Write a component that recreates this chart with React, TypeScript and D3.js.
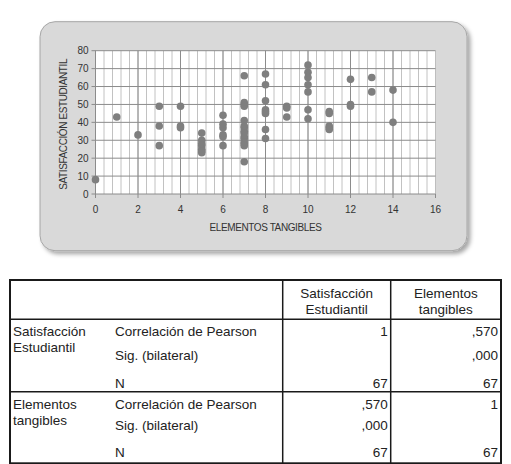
import { useEffect, useRef } from 'react'
import * as d3 from 'd3'

// elementos tangibles (x) and satisfaccion estudiantil (y), one array per x column
const xValues = [0, 1, 2, 3, 4, 5, 6, 7, 8, 9, 10, 11, 12, 13, 14]
const yByX: number[][] = [
  [8],
  [43],
  [33],
  [49, 38, 27],
  [49, 38, 37],
  [34, 30, 28, 27, 25, 24, 23],
  [44, 39, 37, 33, 32, 27],
  [66, 51, 50, 49, 41, 38, 37, 35, 34, 32, 31, 29, 28, 27, 18],
  [67, 61, 52, 47, 46, 45, 36, 31],
  [49, 48, 43],
  [72, 68, 65, 61, 57, 47, 42],
  [46, 45, 38, 37, 36],
  [64, 50, 49],
  [65, 57],
  [58, 40],
]
const xTicks = [0, 2, 4, 6, 8, 10, 12, 14, 16]
const yTicks = [0, 10, 20, 30, 40, 50, 60, 70, 80]

const colHeaders = [['Satisfacción', 'Estudiantil'], ['Elementos', 'tangibles']]
const rowGroups = [['Satisfacción', 'Estudiantil'], ['Elementos', 'tangibles']]
const statLabels = ['Correlación de Pearson', 'Sig. (bilateral)', 'N']
const cellValues = [
  [['1', '', '67'], [',570', ',000', '67']],
  [[',570', ',000', '67'], ['1', '', '67']],
]

const App = () => {
  const svgRef = useRef<SVGSVGElement>(null)

  useEffect(() => {
    if (!svgRef.current) return
    const svg = d3.select(svgRef.current)
    svg.selectAll('*').remove()

    const font = 'Liberation Sans, Arial, sans-serif'
    const plot = { left: 95.5, right: 435.5, top: 50.7, bottom: 194 }

    const x = d3.scaleLinear().domain([0, 16]).range([plot.left, plot.right])
    const y = d3.scaleLinear().domain([0, 80]).range([plot.bottom, plot.top])

    // panel with shadow
    const defs = svg.append('defs')
    const f = defs.append('filter').attr('id', 'shadow').attr('x', '-10%').attr('y', '-10%')
      .attr('width', '120%').attr('height', '130%')
    f.append('feDropShadow').attr('dx', 3).attr('dy', 3).attr('stdDeviation', 2)
      .attr('flood-color', '#000').attr('flood-opacity', 0.35)

    svg.append('rect')
      .attr('x', 40).attr('y', 21.7).attr('width', 427).attr('height', 229)
      .attr('rx', 15).attr('ry', 15)
      .attr('fill', '#d9d9d9').attr('stroke', '#a6a6a6').attr('stroke-width', 1)
      .attr('filter', 'url(#shadow)')

    svg.append('rect')
      .attr('x', plot.left).attr('y', plot.top)
      .attr('width', plot.right - plot.left).attr('height', plot.bottom - plot.top)
      .attr('fill', '#fff')

    // minor vertical grid every 0.4
    const minor = d3.range(0, 40).map(i => i * 0.4)
    svg.append('g').selectAll('line').data(minor).enter().append('line')
      .attr('x1', d => x(d)).attr('x2', d => x(d))
      .attr('y1', plot.top).attr('y2', plot.bottom)
      .attr('stroke', '#b3b3b3').attr('stroke-width', 0.8)
    svg.append('line')
      .attr('x1', plot.right).attr('x2', plot.right)
      .attr('y1', plot.top).attr('y2', plot.bottom)
      .attr('stroke', '#b3b3b3').attr('stroke-width', 0.8)

    // major vertical
    svg.append('g').selectAll('line').data(xTicks.slice(1, -1)).enter().append('line')
      .attr('x1', d => x(d)).attr('x2', d => x(d))
      .attr('y1', plot.top).attr('y2', plot.bottom + 4)
      .attr('stroke', '#8c8c8c').attr('stroke-width', 1)

    // horizontal grid
    svg.append('g').selectAll('line').data(yTicks).enter().append('line')
      .attr('x1', plot.left - 4).attr('x2', plot.right)
      .attr('y1', d => y(d)).attr('y2', d => y(d))
      .attr('stroke', '#8c8c8c').attr('stroke-width', 1)

    // axes
    svg.append('line')
      .attr('x1', plot.left).attr('x2', plot.left)
      .attr('y1', plot.top).attr('y2', plot.bottom + 4)
      .attr('stroke', '#8c8c8c')
    svg.append('line')
      .attr('x1', plot.right).attr('x2', plot.right)
      .attr('y1', plot.bottom).attr('y2', plot.bottom + 4)
      .attr('stroke', '#8c8c8c')

    svg.append('g').selectAll('text').data(yTicks).enter().append('text')
      .attr('x', plot.left - 7).attr('y', d => y(d)).attr('dy', '0.35em')
      .attr('text-anchor', 'end').attr('font-family', font).attr('font-size', 10)
      .attr('fill', '#333').text(d => d)

    svg.append('g').selectAll('text').data(xTicks).enter().append('text')
      .attr('x', d => x(d)).attr('y', plot.bottom + 15).attr('dy', '0.35em')
      .attr('text-anchor', 'middle').attr('font-family', font).attr('font-size', 10)
      .attr('fill', '#333').text(d => d)

    svg.append('text')
      .attr('x', (plot.left + plot.right) / 2).attr('y', 227).attr('dy', '0.35em')
      .attr('text-anchor', 'middle').attr('font-family', font).attr('font-size', 10)
      .attr('letter-spacing', -0.4).attr('fill', '#333').text('ELEMENTOS TANGIBLES')

    svg.append('text')
      .attr('transform', `translate(63.5,${(plot.top + plot.bottom) / 2 + 2}) rotate(-90)`)
      .attr('dy', '0.35em')
      .attr('text-anchor', 'middle').attr('font-family', font).attr('font-size', 10)
      .attr('letter-spacing', -0.4).attr('fill', '#333').text('SATISFACCIÓN ESTUDIANTIL')

    // points
    const points = xValues.flatMap((xv, i) => yByX[i].map(yv => ({ xv, yv })))
    svg.append('g').selectAll('circle').data(points).enter().append('circle')
      .attr('cx', d => x(d.xv)).attr('cy', d => y(d.yv)).attr('r', 3.8)
      .attr('fill', '#7f7f7f')

    // correlation table
    const t = { left: 10, right: 501, top: 280, c1: 282.7, c2: 390.7, h: 319.3, g1: 391.7, bottom: 463.3 }
    const tbl = svg.append('g')
    tbl.append('rect')
      .attr('x', t.left).attr('y', t.top).attr('width', t.right - t.left).attr('height', t.bottom - t.top)
      .attr('fill', '#fff').attr('stroke', '#1a1a1a').attr('stroke-width', 2)
    ;[t.c1, t.c2].forEach(cx => {
      tbl.append('line').attr('x1', cx).attr('x2', cx).attr('y1', t.top).attr('y2', t.bottom)
        .attr('stroke', '#1a1a1a').attr('stroke-width', 1.5)
    })
    ;[t.h, t.g1].forEach(ly => {
      tbl.append('line').attr('x1', t.left).attr('x2', t.right).attr('y1', ly).attr('y2', ly)
        .attr('stroke', '#1a1a1a').attr('stroke-width', 1.5)
    })

    const fs = 13.5
    const txt = (tx: number, ty: number, s: string, anchor = 'start') =>
      tbl.append('text').attr('x', tx).attr('y', ty).attr('dy', '0.35em')
        .attr('text-anchor', anchor).attr('font-family', font).attr('font-size', fs)
        .attr('fill', '#222').text(s)

    const colCenters = [(t.c1 + t.c2) / 2, (t.c2 + t.right) / 2]
    const colRights = [t.c2 - 3, t.right - 3]
    colHeaders.forEach((lines, i) => {
      txt(colCenters[i], 293.5, lines[0], 'middle')
      txt(colCenters[i], 309, lines[1], 'middle')
    })

    const groupTops = [331.7, 404.7]
    const rowOffsets = [[0, 24, 51.6], [0, 20.6, 48]]
    rowGroups.forEach((lines, g) => {
      txt(13, groupTops[g], lines[0])
      txt(13, groupTops[g] + 15.5, lines[1])
      statLabels.forEach((s, r) => {
        const ry = groupTops[g] + rowOffsets[g][r]
        txt(115, ry, s)
        cellValues[g].forEach((col, c) => {
          if (col[r]) txt(colRights[c], ry, col[r], 'end')
        })
      })
    })
  }, [])

  return (
    <svg ref={svgRef} width={511} height={464}
      style={{ position: 'absolute', left: 0, top: 0 }} />
  )
}

export default App
